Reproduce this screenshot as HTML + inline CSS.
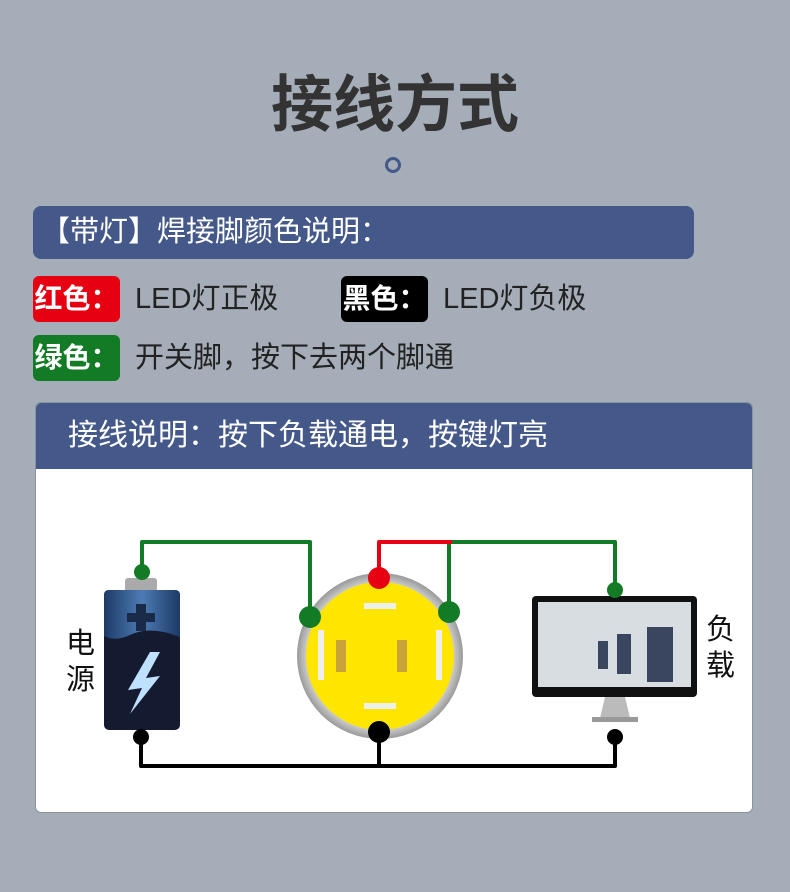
<!DOCTYPE html>
<html><head><meta charset="utf-8"><style>
body{margin:0;width:790px;height:892px;background:#a4adb8;position:relative;overflow:hidden;font-family:"Liberation Sans","Noto Sans CJK SC",sans-serif}
.a{position:absolute}
.lbl{position:absolute;height:46px;width:87px;border-radius:6px;color:#fff;font-size:28px;line-height:46px;text-align:center;font-weight:bold}
.t{position:absolute;font-size:29px;color:#222;line-height:46px}
</style></head><body>
<div class="a" style="left:0;width:790px;top:68px;text-align:center;font-size:62px;font-weight:bold;color:#333;line-height:76px">接线方式</div>
<div class="a" style="left:385px;top:157px;width:10px;height:10px;border:3px solid #44598a;border-radius:50%"></div>
<div class="a" style="left:33px;top:206px;width:661px;height:53px;background:#44598a;border-radius:8px;color:#fff;font-size:29px;line-height:53px;padding-left:8px;box-sizing:border-box">【带灯】焊接脚颜色说明：</div>
<div class="lbl" style="left:33px;top:276px;background:#e60012">红色：</div>
<div class="t" style="left:135px;top:276px">LED灯正极</div>
<div class="lbl" style="left:341px;top:276px;background:#000">黑色：</div>
<div class="t" style="left:443px;top:276px">LED灯负极</div>
<div class="lbl" style="left:33px;top:335px;background:#137a25">绿色：</div>
<div class="t" style="left:135px;top:335px">开关脚，按下去两个脚通</div>
<div class="a" style="left:35px;top:402px;width:718px;height:411px;background:#fff;border-radius:6px;overflow:hidden;border:1px solid #8a93a0;box-sizing:border-box">
<div style="height:66px;background:#44598a;color:#fff;font-size:30px;line-height:66px;padding-left:32px">接线说明：按下负载通电，按键灯亮</div>
</div>
<div class="a" style="left:66px;top:626px;font-size:29px;line-height:36px;color:#111">电<br>源</div>
<div class="a" style="left:706px;top:612px;font-size:29px;line-height:36px;color:#111">负<br>载</div>
<svg class="a" style="left:0;top:0" width="790" height="892">
<defs>
<linearGradient id="bt" x1="0" y1="0" x2="1" y2="0"><stop offset="0" stop-color="#1d3a66"/><stop offset=".5" stop-color="#4d7bb5"/><stop offset="1" stop-color="#1d3a66"/></linearGradient>
<radialGradient id="ring"><stop offset=".85" stop-color="#ddd"/><stop offset="1" stop-color="#999"/></radialGradient>
</defs>
<g fill="none" stroke-width="4" stroke-linejoin="round">
<path d="M142 572 V542 H310 V614" stroke="#137a25"/>
<path d="M449 612 V542 H615 V590" stroke="#137a25"/>
<path d="M379 578 V542 H452" stroke="#e60012"/>
<path d="M141 737 V766 H615 V737 M379 732 V766" stroke="#000"/>
</g>
<rect x="125" y="578" width="32" height="14" rx="3" fill="#aaa"/>
<rect x="104" y="590" width="76" height="140" rx="5" fill="#141a30"/>
<path d="M104 595 Q104 590 109 590 H175 Q180 590 180 595 V637 Q150 625 130 635 Q115 642 104 636 Z" fill="url(#bt)"/>
<path d="M136 604 h10 v9 h9 v9 h-9 v9 h-10 v-9 h-9 v-9 h9z" fill="#1a2b4a"/>
<path d="M150 652 L128 690 L142 688 L130 714 L160 676 L146 678 L160 652 Z" fill="#bfe0ff"/>
<circle cx="380" cy="656" r="83" fill="url(#ring)"/>
<circle cx="380" cy="656" r="74" fill="#ffe600"/>
<rect x="336" y="640" width="10" height="32" fill="#c9a23a"/>
<rect x="397" y="640" width="10" height="32" fill="#c9a23a"/>
<rect x="364" y="603" width="32" height="6" fill="#eee"/>
<rect x="364" y="703" width="32" height="6" fill="#eee"/>
<rect x="318" y="630" width="6" height="50" fill="#eee"/>
<rect x="436" y="630" width="6" height="50" fill="#eee"/>
<rect x="532" y="596" width="165" height="101" rx="4" fill="#111"/>
<rect x="538" y="602" width="153" height="85" fill="#d8dde2"/>
<rect x="647" y="627" width="26" height="55" fill="#3a4560"/>
<rect x="617" y="634" width="14" height="40" fill="#3a4560"/>
<rect x="598" y="641" width="10" height="28" fill="#3a4560"/>
<path d="M605 697 H625 L630 718 H600 Z" fill="#bbb"/>
<rect x="592" y="717" width="46" height="5" fill="#999"/>
<g fill="#137a25"><circle cx="142" cy="572" r="8"/><circle cx="310" cy="617" r="11"/><circle cx="449" cy="612" r="11"/><circle cx="615" cy="590" r="8"/></g>
<circle cx="379" cy="578" r="11" fill="#e60012"/>
<g fill="#000"><circle cx="141" cy="737" r="8"/><circle cx="379" cy="732" r="11"/><circle cx="615" cy="737" r="8"/></g>
</svg>
</body></html>
